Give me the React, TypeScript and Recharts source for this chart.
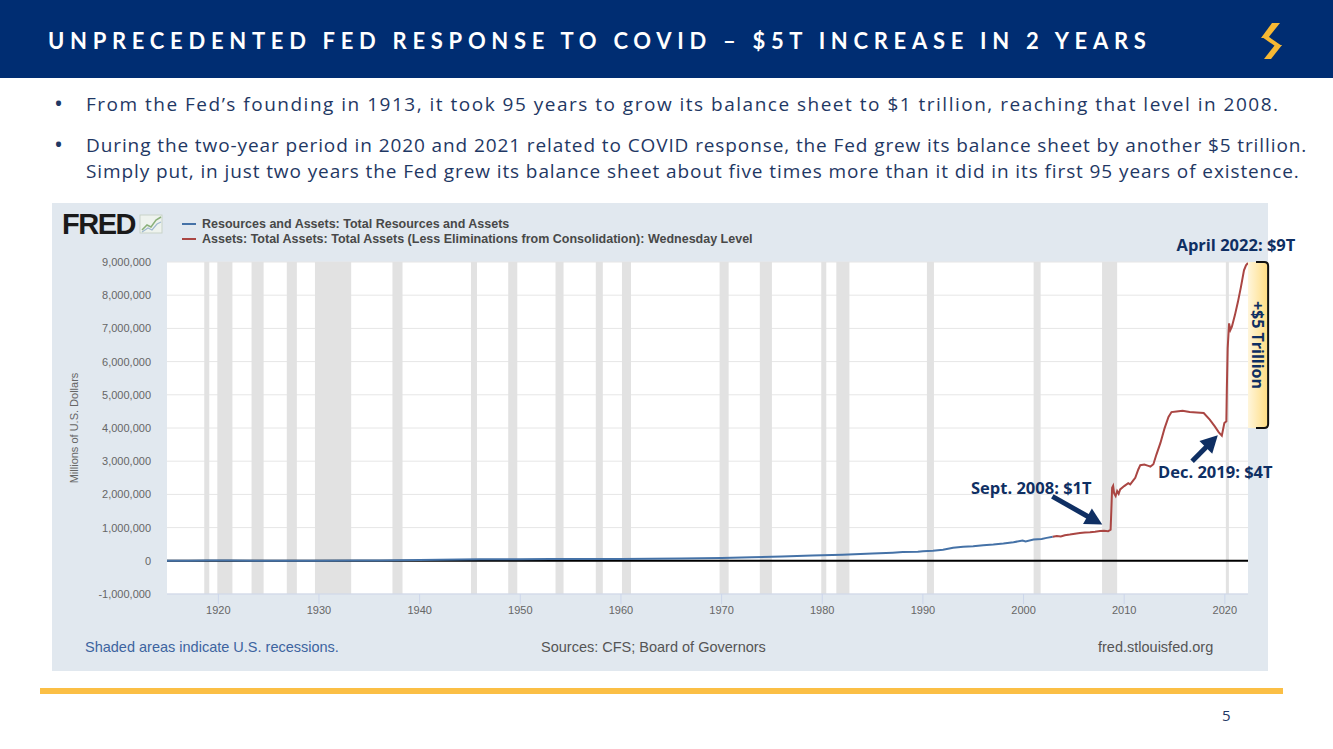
import React from 'react'
import {
  LineChart,
  Line,
  XAxis,
  YAxis,
  CartesianGrid,
  ReferenceArea,
  ReferenceLine,
  ReferenceDot,
} from 'recharts'

// Resources and Assets: Total Resources and Assets (millions of $)
const blueYears = [
  1914.9, 1917, 1919, 1921, 1925, 1930, 1934, 1936, 1938, 1940, 1942, 1944, 1946, 1948, 1950,
  1953, 1956, 1960, 1963, 1966, 1970, 1973, 1976, 1979, 1982, 1985, 1987, 1988, 1989.5, 1990,
  1991, 1992, 1993, 1994, 1995, 1996, 1997, 1998, 1999, 1999.9, 2000.2, 2001, 2001.8, 2002.3,
  2002.9,
]
const blueValues = [
  1000, 3000, 6000, 5500, 5000, 5200, 8000, 12000, 15000, 22000, 30000, 40000, 47000, 48000,
  47000, 51000, 52000, 53000, 60000, 70000, 85000, 105000, 128000, 160000, 185000, 220000,
  245000, 262000, 270000, 290000, 305000, 330000, 390000, 420000, 440000, 470000, 490000,
  520000, 560000, 610000, 585000, 640000, 660000, 690000, 725000,
]

// Assets: Total Assets (Less Eliminations from Consolidation): Wednesday Level (millions of $)
const redYears = [
  2002.9, 2003.3, 2003.7, 2004.1, 2004.6, 2005.1, 2005.6, 2006.1, 2006.6, 2007.1, 2007.6,
  2008.0, 2008.4, 2008.65, 2008.72, 2008.8, 2008.9, 2009.0, 2009.15, 2009.3, 2009.45, 2009.6,
  2010.0, 2010.4, 2010.6, 2010.9, 2011.1, 2011.4, 2011.6, 2012.0, 2012.4, 2012.6, 2012.9,
  2013.2, 2013.6, 2014.0, 2014.4, 2014.7, 2015.2, 2015.8, 2016.5, 2017.2, 2017.9, 2018.5,
  2019.0, 2019.4, 2019.7, 2019.95, 2020.15, 2020.2, 2020.28, 2020.42, 2020.55, 2020.7, 2021.0,
  2021.3, 2021.6, 2021.9, 2022.1, 2022.3,
]
const redValues = [
  725000, 750000, 735000, 770000, 790000, 815000, 835000, 850000, 860000, 875000, 895000,
  905000, 890000, 940000, 1500000, 2200000, 2260000, 2030000, 1950000, 2100000, 2020000,
  2150000, 2250000, 2340000, 2300000, 2420000, 2500000, 2750000, 2880000, 2900000, 2860000,
  2840000, 2910000, 3200000, 3550000, 3980000, 4330000, 4480000, 4500000, 4520000, 4480000,
  4470000, 4450000, 4250000, 4050000, 3870000, 3770000, 4150000, 4200000, 5200000, 6400000,
  7150000, 6950000, 7050000, 7400000, 7800000, 8250000, 8750000, 8900000, 8970000,
]

const recessionStarts = [
  1918.6, 1919.9, 1923.3, 1926.8, 1929.6, 1937.3, 1945.1, 1948.8, 1953.5, 1957.5, 1960.1,
  1969.8, 1973.8, 1979.9, 1981.4, 1990.4, 2001.0, 2007.8, 2020.1,
]
const recessionEnds = [
  1919.1, 1921.4, 1924.5, 1927.8, 1933.2, 1938.3, 1945.7, 1949.7, 1954.3, 1958.2, 1961.0,
  1970.7, 1975.0, 1980.4, 1982.7, 1991.1, 2001.7, 2009.3, 2020.4,
]

const xTicks = [1920, 1930, 1940, 1950, 1960, 1970, 1980, 1990, 2000, 2010, 2020]
const yTicks = [
  -1000000, 0, 1000000, 2000000, 3000000, 4000000, 5000000, 6000000, 7000000, 8000000, 9000000,
]

const noteTexts = ['April 2022: $9T', 'Sept. 2008: $1T', 'Dec. 2019: $4T']
const noteYears = [2021.1, 2000.77, 2019.05]
const noteValues = [9500000, 2190000, 2670000]

const arrowFromYears = [2002.86, 2016.75]
const arrowFromValues = [1940000, 3000000]
const arrowToYears = [2007.82, 2019.3]
const arrowToValues = [1090000, 3780000]

const bracketYears = [2022.3, 2024.3]
const bracketValues = [4000000, 9000000]

const blueData = blueYears.map((year, i) => ({ year, v: blueValues[i] }))
const redData = redYears.map((year, i) => ({ year, v: redValues[i] }))

const navy = '#002d72'
const noteNavy = '#0f2f63'
const sans = '"Open Sans", Lato, sans-serif'
const arial = '"Liberation Sans", Arial, sans-serif'

function Arrow(p: any) {
  const { x1, y1, x2, y2 } = p
  const dx = x2 - x1
  const dy = y2 - y1
  const len = Math.hypot(dx, dy) || 1
  const ux = dx / len
  const uy = dy / len
  const head = 17
  const hw = 9
  const bx = x2 - ux * head
  const by = y2 - uy * head
  const nx = -uy
  const ny = ux
  return (
    <g>
      <line x1={x1} y1={y1} x2={bx + ux * 2} y2={by + uy * 2} stroke={noteNavy} strokeWidth={5} />
      <polygon
        points={`${x2},${y2} ${bx + nx * hw},${by + ny * hw} ${bx - nx * hw},${by - ny * hw}`}
        fill={noteNavy}
      />
    </g>
  )
}

function Bracket(p: any) {
  const { x, y, width, height } = p
  const r = 4
  return (
    <g>
      <defs>
        <linearGradient id="brk" x1="0" y1="0" x2="1" y2="0">
          <stop offset="0%" stopColor="#fff6dc" />
          <stop offset="100%" stopColor="#ffdc80" />
        </linearGradient>
      </defs>
      <rect x={x} y={y} width={width} height={height} fill="url(#brk)" />
      <path
        d={`M ${x + 8} ${y} L ${x + width - r} ${y} Q ${x + width} ${y} ${x + width} ${y + r}
            L ${x + width} ${y + height - r} Q ${x + width} ${y + height} ${x + width - r} ${y + height}
            L ${x + 8} ${y + height}`}
        fill="none"
        stroke="#111"
        strokeWidth={2}
      />
    </g>
  )
}

function FredLogo() {
  return (
    <div style={{ position: 'absolute', left: 10, top: 5, display: 'flex', alignItems: 'center' }}>
      <span
        style={{
          fontFamily: arial,
          fontWeight: 900,
          fontSize: 29,
          letterSpacing: -1.5,
          color: '#1a1a1a',
          lineHeight: '32px',
        }}
      >
        FRED
      </span>
      <svg width={26} height={22} style={{ marginLeft: 4 }}>
        <rect x={1} y={2} width={22} height={18} fill="#eef3ee" stroke="#c9d3c9" />
        <polyline points="3,17 8,12 12,14 17,7 22,4" fill="none" stroke="#8ab07a" strokeWidth={1.5} />
        <polyline points="3,19 9,15 13,17 18,11 22,9" fill="none" stroke="#9fb8cf" strokeWidth={1.2} />
      </svg>
    </div>
  )
}

function LegendRows() {
  const rows = [
    { color: '#4572a7', text: 'Resources and Assets: Total Resources and Assets' },
    {
      color: '#aa4643',
      text: 'Assets: Total Assets: Total Assets (Less Eliminations from Consolidation): Wednesday Level',
    },
  ]
  return (
    <div style={{ position: 'absolute', left: 130, top: 13 }}>
      {rows.map((r) => (
        <div key={r.text} style={{ display: 'flex', alignItems: 'center', height: 15 }}>
          <span style={{ width: 14, height: 2, background: r.color, marginRight: 6 }} />
          <span
            style={{
              fontFamily: arial,
              fontWeight: 700,
              fontSize: 12.5,
              color: '#484848',
              whiteSpace: 'nowrap',
            }}
          >
            {r.text}
          </span>
        </div>
      ))}
    </div>
  )
}

function Logo() {
  return (
    <svg width={30} height={38} style={{ position: 'absolute', left: 1257, top: 22 }}>
      <path d="M 15 1 L 23 1 L 11 16 L 4 16 Z" fill="#f6b833" />
      <path d="M 5 15 L 12 15 L 25 24 L 18 24 Z" fill="#f6b833" />
      <path d="M 18 23 L 25 23 L 14 37 L 7 37 Z" fill="#f6b833" />
    </svg>
  )
}

export default function App() {
  const noteLabel = (text: string) => ({
    value: text,
    position: 'center' as const,
    fill: noteNavy,
    fontSize: 16.5,
    fontWeight: 700,
    fontFamily: sans,
  })

  const bulletText = {
    position: 'absolute' as const,
    left: 86,
    lineHeight: '25.6px',
    whiteSpace: 'nowrap' as const,
  }

  return (
    <div
      style={{
        position: 'absolute',
        left: 0,
        top: 0,
        width: 1333,
        height: 749,
        background: '#ffffff',
        overflow: 'hidden',
        fontFamily: sans,
      }}
    >
      <div style={{ position: 'absolute', left: 0, top: 0, width: 1333, height: 78, background: navy }}>
        <div
          style={{
            position: 'absolute',
            left: 48,
            top: 26,
            fontFamily: 'Lato, sans-serif',
            fontSize: 22,
            lineHeight: '30px',
            fontWeight: 700,
            letterSpacing: 5.7,
            color: '#ffffff',
            whiteSpace: 'nowrap',
          }}
        >
          UNPRECEDENTED FED RESPONSE TO COVID – $5T INCREASE IN 2 YEARS
        </div>
        <Logo />
      </div>

      <div style={{ position: 'absolute', left: 0, top: 0, color: '#1f3864', fontSize: 19 }}>
        <div style={{ position: 'absolute', left: 54, top: 90, fontSize: 24, lineHeight: '26px' }}>•</div>
        <div style={{ ...bulletText, top: 92, letterSpacing: 1.5 }}>
          From the Fed’s founding in 1913, it took 95 years to grow its balance sheet to $1 trillion, reaching that
          level in 2008.
        </div>
        <div style={{ position: 'absolute', left: 54, top: 131, fontSize: 24, lineHeight: '26px' }}>•</div>
        <div style={{ ...bulletText, top: 133, letterSpacing: 0.9 }}>
          During the two-year period in 2020 and 2021 related to COVID response, the Fed grew its balance sheet by
          another $5 trillion.
          <br />
          Simply put, in just two years the Fed grew its balance sheet about five times more than it did in its first
          95 years of existence.
        </div>
      </div>

      <div
        style={{
          position: 'absolute',
          left: 52,
          top: 203,
          width: 1216,
          height: 468,
          background: '#e1e8ef',
        }}
      >
        <FredLogo />
        <LegendRows />
        <div style={{ position: 'absolute', left: 0, top: 0 }}>
          <LineChart
            width={1290}
            height={468}
            margin={{ top: 59, right: 94, left: 0, bottom: 47 }}
          >
            <CartesianGrid vertical={false} stroke="#e6e6e6" fill="#ffffff" />
            <XAxis
              dataKey="year"
              type="number"
              domain={[1914.9, 2022.3]}
              ticks={xTicks}
              allowDataOverflow
              height={30}
              tickSize={10}
              tickMargin={2}
              stroke="#ccd6eb"
              tick={{ fill: '#666', fontSize: 11, fontFamily: arial }}
            />
            <YAxis
              type="number"
              domain={[-1000000, 9000000]}
              ticks={yTicks}
              allowDataOverflow
              width={115}
              tickLine={false}
              axisLine={false}
              tickMargin={10}
              tickFormatter={(v: number) => v.toLocaleString('en-US')}
              tick={{ fill: '#666', fontSize: 11, fontFamily: arial }}
              label={{
                value: 'Millions of U.S. Dollars',
                angle: -90,
                position: 'insideLeft',
                offset: 22,
                style: { textAnchor: 'middle', fill: '#666', fontSize: 11, fontFamily: arial },
              }}
            />
            {recessionStarts.map((s, i) => (
              <ReferenceArea key={s} x1={s} x2={recessionEnds[i]} fill="#e2e2e2" fillOpacity={1} stroke="none" />
            ))}
            <ReferenceLine y={0} stroke="#000" strokeWidth={2} />
            <Line
              data={blueData}
              dataKey="v"
              stroke="#4572a7"
              strokeWidth={2}
              dot={false}
              isAnimationActive={false}
            />
            <Line
              data={redData}
              dataKey="v"
              stroke="#aa4643"
              strokeWidth={2}
              dot={false}
              isAnimationActive={false}
            />
            <ReferenceArea
              x1={bracketYears[0]}
              x2={bracketYears[1]}
              y1={bracketValues[0]}
              y2={bracketValues[1]}
              ifOverflow="visible"
              shape={Bracket}
              label={{
                value: '+$5 Trillion',
                angle: 90,
                position: 'center',
                fill: noteNavy,
                fontSize: 16,
                fontWeight: 700,
                fontFamily: sans,
              }}
            />
            {arrowFromYears.map((fy, i) => (
              <ReferenceLine
                key={fy}
                segment={[
                  { x: fy, y: arrowFromValues[i] },
                  { x: arrowToYears[i], y: arrowToValues[i] },
                ]}
                ifOverflow="visible"
                shape={Arrow}
              />
            ))}
            {noteTexts.map((t, i) => (
              <ReferenceDot
                key={t}
                x={noteYears[i]}
                y={noteValues[i]}
                r={0}
                stroke="none"
                fill="none"
                ifOverflow="visible"
                label={noteLabel(t)}
              />
            ))}
          </LineChart>
        </div>
        <div
          style={{
            position: 'absolute',
            left: 33,
            top: 436,
            fontFamily: arial,
            fontSize: 14.5,
            color: '#3d64a0',
            whiteSpace: 'nowrap',
          }}
        >
          Shaded areas indicate U.S. recessions.
        </div>
        <div
          style={{
            position: 'absolute',
            left: 489,
            top: 436,
            fontFamily: arial,
            fontSize: 14.5,
            color: '#555',
            whiteSpace: 'nowrap',
          }}
        >
          Sources: CFS; Board of Governors
        </div>
        <div
          style={{
            position: 'absolute',
            left: 1046,
            top: 436,
            fontFamily: arial,
            fontSize: 14.5,
            color: '#555',
            whiteSpace: 'nowrap',
          }}
        >
          fred.stlouisfed.org
        </div>
      </div>

      <div style={{ position: 'absolute', left: 40, top: 688, width: 1243, height: 6, background: '#fbbf45' }} />
      <div style={{ position: 'absolute', left: 1222, top: 705, fontSize: 15, color: '#1f3864' }}>5</div>
    </div>
  )
}
